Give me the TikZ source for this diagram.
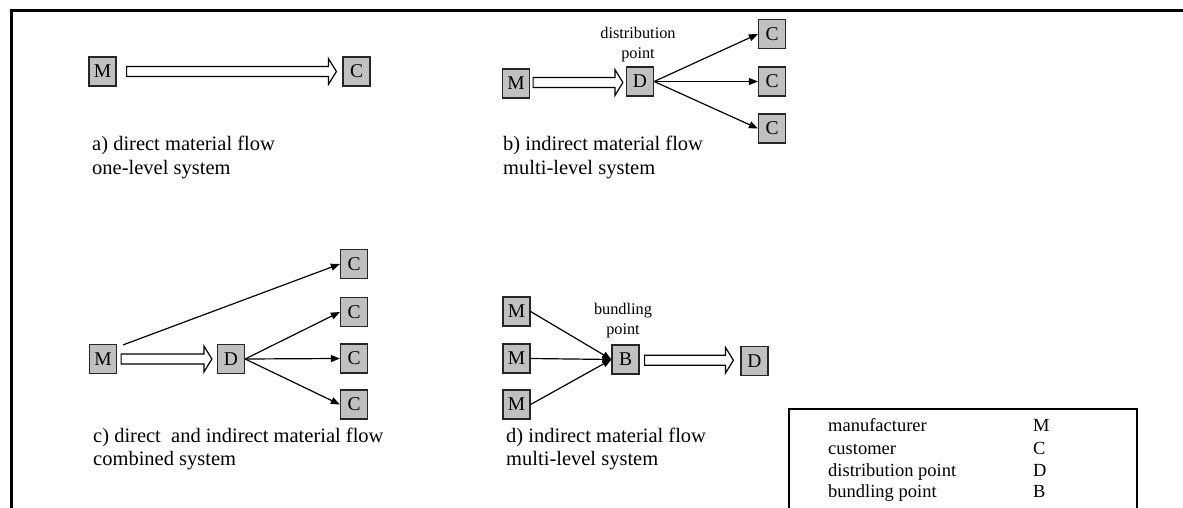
\documentclass[tikz,border=0pt]{standalone}
\usepackage{fontspec}
\setmainfont{Liberation Serif}
\usetikzlibrary{calc,arrows.meta}
\definecolor{boxgray}{RGB}{192,192,192}

% hollow block arrow between two nodes: from, to, start gap, end gap
\newcommand\fatarrow[4]{%
  \draw[fatarrowline] let \p1=(#1.east), \p2=(#2.west), \n1={0.5*(\y1+\y2)} in
    (\x1+#3pt,\n1-5pt) -- (\x2-#4pt-8pt,\n1-5pt) -- (\x2-#4pt-8pt,\n1-13pt)
    -- (\x2-#4pt,\n1) -- (\x2-#4pt-8pt,\n1+13pt) -- (\x2-#4pt-8pt,\n1+5pt)
    -- (\x1+#3pt,\n1+5pt) -- cycle;}

\begin{document}
\begin{tikzpicture}[x=1pt,y=-1pt,
  unitbox/.style={draw=black!85, line width=1.2pt, fill=boxgray,
    minimum width=27pt, minimum height=29pt, inner sep=0pt,
    font=\fontsize{19.5}{22}\selectfont},
  flowline/.style={line width=1.2pt, -{Triangle[length=9pt,width=7pt]}},
  fatarrowline/.style={draw, line width=1.2pt, fill=white, line join=miter},
  captext/.style={anchor=base west, inner sep=0pt, font=\fontsize{20.5}{24}\selectfont},
  tagtext/.style={align=center, inner sep=0pt, anchor=south, font=\fontsize{16.3}{19.5}\selectfont},
  legtext/.style={anchor=base west, inner sep=0pt, font=\fontsize{18.5}{22}\selectfont}]

\useasboundingbox (0,0) rectangle (1183,508);

% outer frame (top and left edges)
\draw[line width=3pt, line join=miter] (11,508) -- (11,10.5) -- (1183,10.5);

% a) direct material flow
\node[unitbox] (Ma) at (102.5,71.5) {M};
\node[unitbox] (Ca) at (356.5,71.5) {C};
\fatarrow{Ma}{Ca}{10}{6}
\node[captext] (capa1) at (92,150.5) {a) direct material flow};
\node[captext] (capa2) at (92,174) {one-level system};

% b) indirect material flow
\node[unitbox] (Mb) at (516,83.5) {M};
\node[unitbox] (Db) at (640,81.5) {D};
\node[unitbox] (Cb1) at (772,34) {C};
\node[unitbox] (Cb2) at (772,81.5) {C};
\node[unitbox] (Cb3) at (772,128.5) {C};
\node[tagtext] (tagb) at (638,62) {distribution\\point};
\fatarrow{Mb}{Db}{3}{3}
\draw[flowline] (Db.east) -- (Cb1.west);
\draw[flowline] (Db.east) -- (Cb2.west);
\draw[flowline] (Db.east) -- (Cb3.west);
\node[captext] (capb1) at (503,150.5) {b) indirect material flow};
\node[captext] (capb2) at (503,174) {multi-level system};

% c) direct and indirect material flow
\node[unitbox] (Mc) at (103,359) {M};
\node[unitbox] (Dc) at (231,359) {D};
\node[unitbox] (Cc1) at (354,264) {C};
\node[unitbox] (Cc2) at (354,312) {C};
\node[unitbox] (Cc3) at (354,358.5) {C};
\node[unitbox] (Cc4) at (354,404.5) {C};
\coordinate (Mcout) at ($(Mc.north east)+(6,1)$);
\draw[flowline] (Mcout) -- (Cc1.west);
\fatarrow{Mc}{Dc}{4}{5}
\draw[flowline] (Dc.east) -- (Cc2.west);
\draw[flowline] (Dc.east) -- (Cc3.west);
\draw[flowline] (Dc.east) -- (Cc4.west);
\node[captext] (capc1) at (93,442) {c) direct\ \ and indirect material flow};
\node[captext] (capc2) at (93,465.5) {combined system};

% d) indirect material flow with bundling
\node[unitbox] (Md1) at (516.5,311.5) {M};
\node[unitbox] (Md2) at (516.5,358.5) {M};
\node[unitbox] (Md3) at (516.5,404.5) {M};
\node[unitbox] (Bd) at (625.5,359.5) {B};
\node[unitbox] (Dd) at (754.5,361) {D};
\node[tagtext] (tagd) at (623,338) {bundling\\point};
\draw[flowline] (Md1.east) -- (Bd.west);
\draw[flowline] (Md2.east) -- (Bd.west);
\draw[flowline] (Md3.east) -- (Bd.west);
\fatarrow{Bd}{Dd}{5}{7}
\node[captext] (capd1) at (506,442) {d) indirect material flow};
\node[captext] (capd2) at (506,465.5) {multi-level system};

% legend
\draw[line width=1.2pt, line join=miter] (789,508) -- (789,409) -- (1137,409) -- (1137,508);
\node[legtext] (lm) at (828,431) {manufacturer};
\node[legtext] (lc) at (828,454) {customer};
\node[legtext] (ld) at (828,476) {distribution point};
\node[legtext] (lb) at (828,497) {bundling point};
\node[legtext] (km) at (1033,431) {M};
\node[legtext] (kc) at (1033,454) {C};
\node[legtext] (kd) at (1033,476) {D};
\node[legtext] (kb) at (1033,497) {B};
\end{tikzpicture}
\end{document}
